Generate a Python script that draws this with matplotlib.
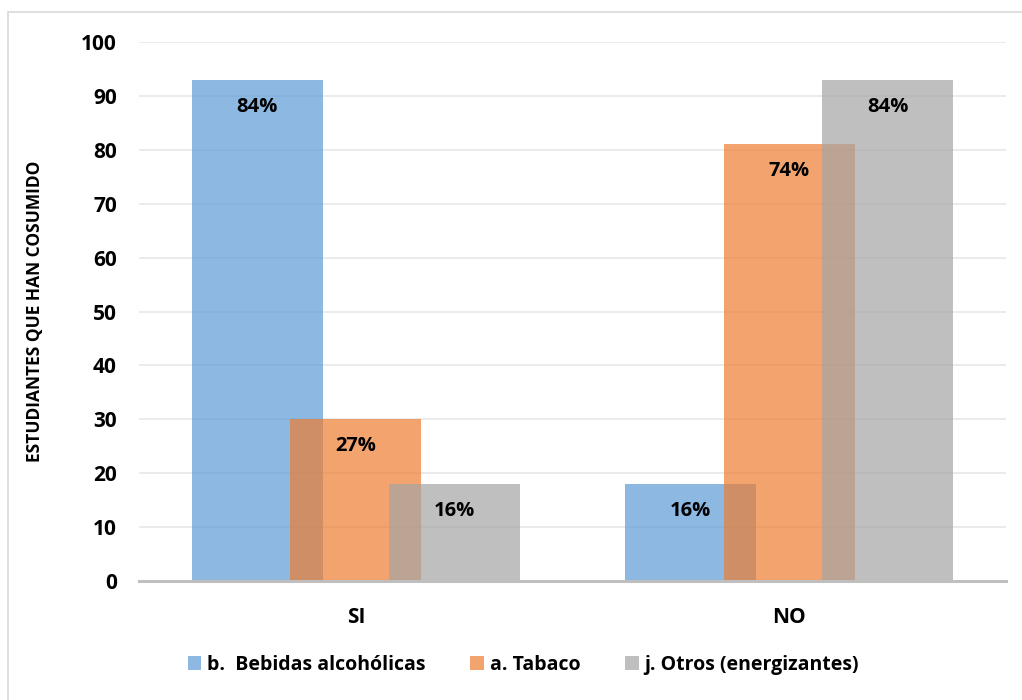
import numpy as np
import matplotlib.pyplot as plt
from matplotlib.patches import Rectangle

# Datos
categorias = ['SI', 'NO']
series = ['b.  Bebidas alcohólicas', 'a. Tabaco', 'j. Otros (energizantes)']
bebidas = [93, 18]
tabaco = [30, 81]
otros = [18, 93]
etiquetas_bebidas = ['84%', '16%']
etiquetas_tabaco = ['27%', '74%']
etiquetas_otros = ['16%', '84%']

plt.rcParams['font.family'] = ['Open Sans', 'DejaVu Sans']
plt.rcParams['font.weight'] = 'bold'

colores = ['#5B9BD5', '#ED7D31', '#A5A5A5']

fig = plt.figure(figsize=(10.22, 7), dpi=100)
ax = fig.add_axes([139/1022, 1 - 581/700, 867/1022, 539/700])

# marco exterior
fig.patches.append(Rectangle((8/1022, -0.1), 1.2, 1 - 12/700 + 0.1, transform=fig.transFigure,
                             fill=False, edgecolor='#D9D9D9', lw=1.2))

x = np.arange(len(categorias))
ancho = 0.302
desp = 0.227

datos = [bebidas, tabaco, otros]
etiquetas = [etiquetas_bebidas, etiquetas_tabaco, etiquetas_otros]
for i, (vals, labs) in enumerate(zip(datos, etiquetas)):
    pos = x + (i - 1) * desp
    ax.bar(pos, vals, width=ancho, color=colores[i], alpha=0.7, label=series[i], zorder=2)
    for p, v, t in zip(pos, vals, labs):
        ax.text(p, v - 5, t, ha='center', va='center', fontsize=14.5, fontweight='bold', zorder=4)

ax.set_xlim(-0.5, 1.5)
ax.set_ylim(0, 100)
ax.set_yticks(range(0, 101, 10))
ax.set_xticks(x)
ax.set_xticklabels(categorias)
ax.tick_params(axis='both', length=0, labelsize=15, pad=16)
ax.tick_params(axis='x', pad=19)
for lab in ax.get_xticklabels() + ax.get_yticklabels():
    lab.set_fontweight('bold')

ax.grid(axis='y', color='#E8E8E8', lw=1.2, zorder=0)
for s in ['top', 'right', 'left']:
    ax.spines[s].set_visible(False)
ax.spines['bottom'].set_color('#BFBFBF')
ax.spines['bottom'].set_linewidth(2.2)
ax.spines['bottom'].set_zorder(3)

ax.set_ylabel('ESTUDIANTES QUE HAN COSUMIDO', fontsize=12.5, fontweight='bold')
ax.yaxis.set_label_coords(-0.109, 0.5)

fig.legend(loc='center', bbox_to_anchor=(0.512, 1 - 665/700), ncol=3, frameon=False,
           fontsize=14, handlelength=0.7, handleheight=0.7, handletextpad=0.3,
           columnspacing=2.3)

fig.savefig('out.png', dpi=100)
